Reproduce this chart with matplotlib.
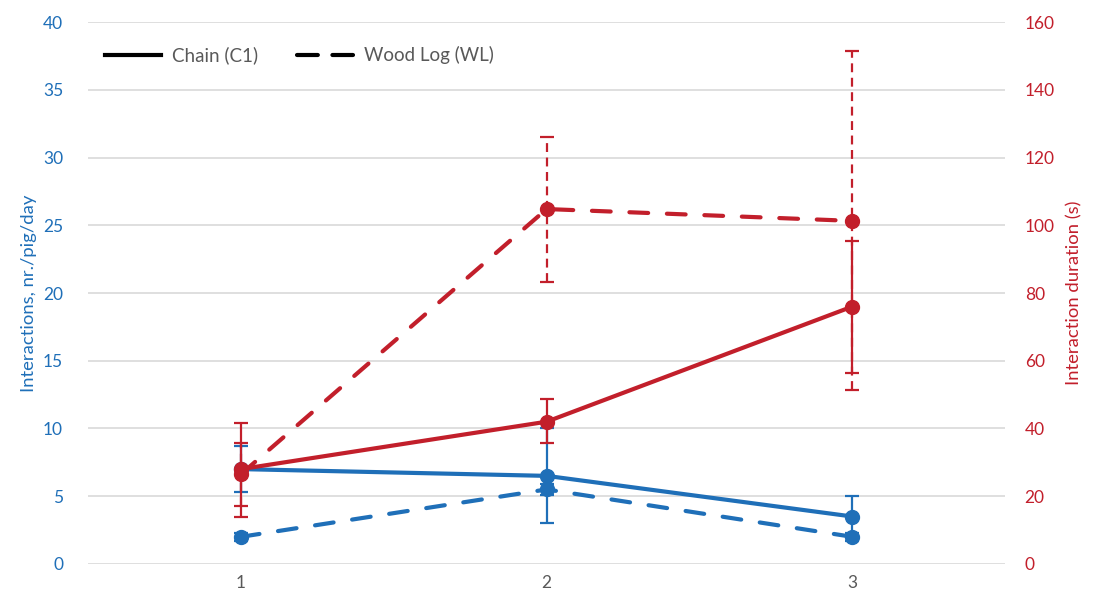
import matplotlib
matplotlib.use("Agg")
import matplotlib.pyplot as plt
from matplotlib.lines import Line2D

# Data
weeks = [1, 2, 3]
chain_inter = [7.0, 6.5, 3.5]
chain_inter_err_lo = [1.7, 3.5, 1.5]
chain_inter_err_hi = [1.7, 3.5, 1.5]
wl_inter = [2.0, 5.5, 2.0]
wl_inter_err = [0.3, 0.4, 0.3]
chain_dur = [28.0, 42.0, 76.0]
chain_dur_err_lo = [14.0, 6.3, 19.6]
chain_dur_err_hi = [13.6, 6.7, 19.3]
wl_dur = [26.5, 104.8, 101.3]
wl_dur_err_lo = [9.3, 21.6, 50.0]
wl_dur_err_hi = [9.3, 21.2, 50.1]

left_ticks = [0, 5, 10, 15, 20, 25, 30, 35, 40]
right_ticks = [0, 20, 40, 60, 80, 100, 120, 140, 160]

BLUE = "#1F6FB8"
RED = "#C21F2B"
GRAY = "#595959"

plt.rcParams['font.family'] = ['Lato', 'DejaVu Sans']

fig = plt.figure(figsize=(11.01, 5.98), dpi=100)
ax = fig.add_axes([0.080, 0.057, 0.833, 0.906])
ax2 = ax.twinx()

lw = 3.0
ms = 10
# blue series (left axis)
ax.errorbar(weeks, chain_inter, yerr=[chain_inter_err_lo, chain_inter_err_hi], color=BLUE,
            lw=lw, marker='o', ms=ms, elinewidth=1.6, capsize=5, capthick=1.6, zorder=3)
eb = ax.errorbar(weeks, wl_inter, yerr=wl_inter_err, color=BLUE, lw=lw, marker='o', ms=ms,
                 elinewidth=1.6, capsize=5, capthick=1.6, zorder=3)
eb[0].set_dashes((4.5, 4.5))
eb[0].set_dash_capstyle('round')
for c in eb[2]:
    c.set_linestyle((0, (4, 2.5)))

# red series (right axis)
ax2.errorbar(weeks, chain_dur, yerr=[chain_dur_err_lo, chain_dur_err_hi], color=RED,
             lw=lw, marker='o', ms=ms, elinewidth=1.6, capsize=5, capthick=1.6, zorder=3)
eb2 = ax2.errorbar(weeks, wl_dur, yerr=[wl_dur_err_lo, wl_dur_err_hi], color=RED, lw=lw,
                   marker='o', ms=ms, elinewidth=1.6, capsize=5, capthick=1.6, zorder=3)
eb2[0].set_dashes((4.5, 4.5))
eb2[0].set_dash_capstyle('round')
for c in eb2[2]:
    c.set_linestyle((0, (4, 2.5)))

ax.set_xlim(0.5, 3.5)
ax.set_ylim(0, 40)
ax2.set_ylim(0, 160)
ax.set_xticks(weeks)
ax.set_xticklabels([str(w) for w in weeks])
ax.set_yticks(left_ticks)
ax2.set_yticks(right_ticks)
ax.yaxis.grid(True, color="#D9D9D9", lw=1.2)
ax.set_axisbelow(True)

for a in (ax, ax2):
    for s in a.spines.values():
        s.set_visible(False)
    a.tick_params(length=0)

ax.tick_params(axis='x', labelcolor=GRAY, labelsize=12.5, pad=8)
ax.tick_params(axis='y', labelcolor=BLUE, labelsize=12.5, pad=18)
ax2.tick_params(axis='y', labelcolor=RED, labelsize=12.5, pad=14)

ax.set_ylabel("Interactions, nr./pig/day", color=BLUE, fontsize=13.3, labelpad=4)
ax2.set_ylabel("Interaction duration (s)", color=RED, fontsize=13.3, labelpad=8)

handles = [Line2D([0], [0], color='black', lw=lw),
           Line2D([0], [0], color='black', lw=lw, dashes=(5, 3.5), dash_capstyle='round')]
leg = ax2.legend(handles, ["Chain (C1)", "Wood Log (WL)"], ncol=2, frameon=False,
                 loc='upper left', bbox_to_anchor=(0.0, 0.987), handlelength=3.0,
                 handletextpad=0.55, columnspacing=2.1, fontsize=13.5)
for t in leg.get_texts():
    t.set_color(GRAY)

fig.savefig("out.png", dpi=100)
